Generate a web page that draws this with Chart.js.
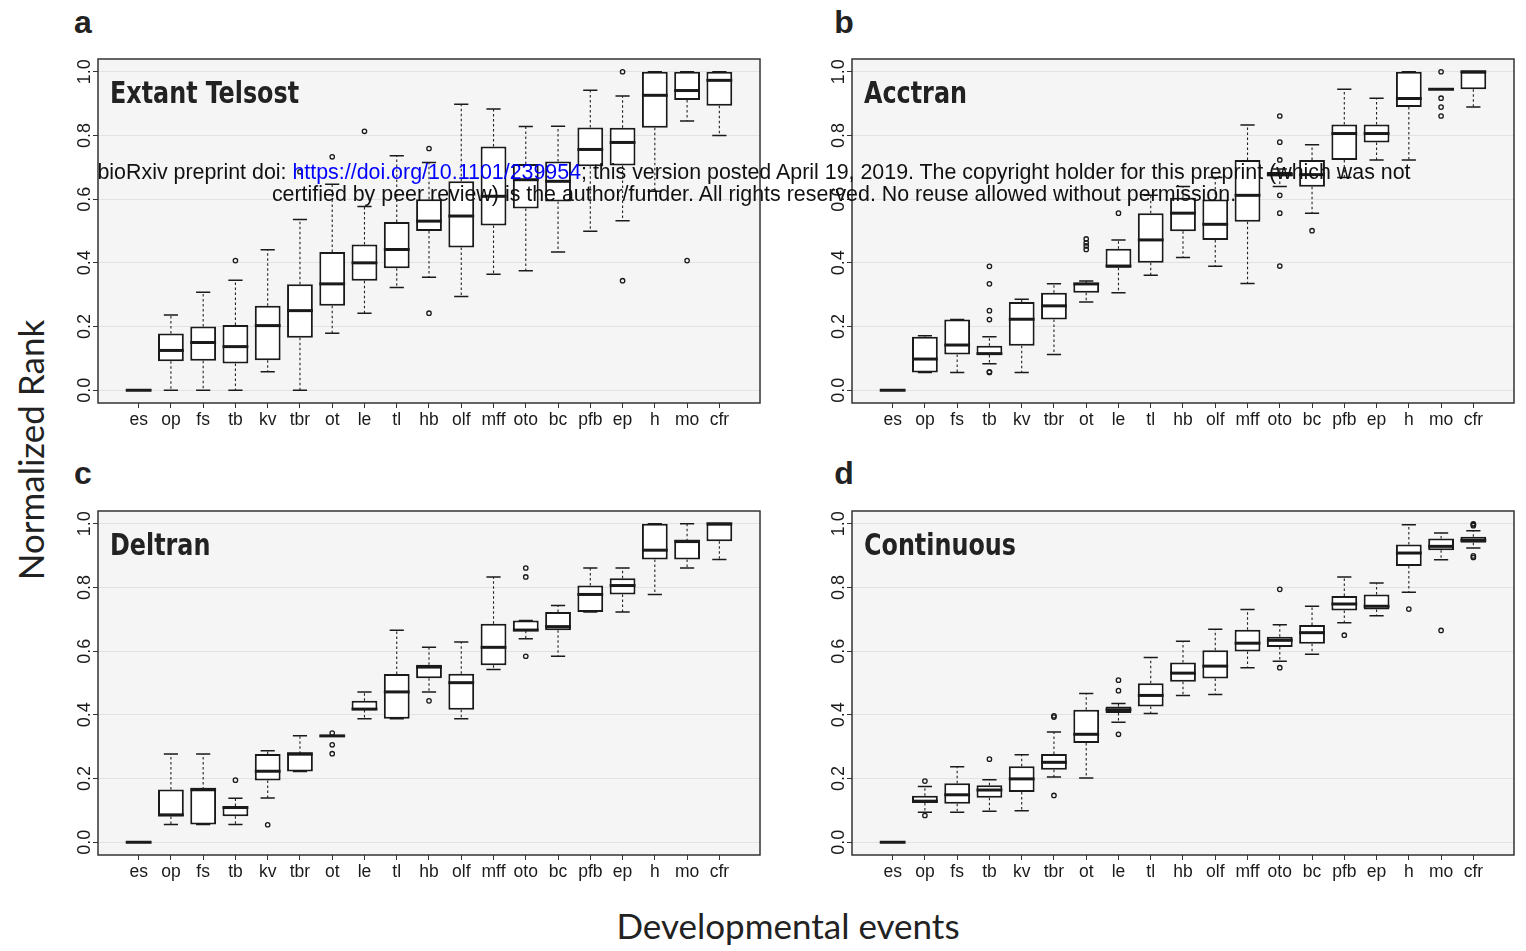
<!DOCTYPE html>
<html>
<head>
<meta charset="utf-8">
<script src="https://cdn.jsdelivr.net/npm/chart.js@4.4.1/dist/chart.umd.min.js"></script>
<style>
body{margin:0;background:#fff;width:1526px;height:951px;position:relative;overflow:hidden;font-family:"Liberation Sans",Arial,sans-serif}
.panel{position:absolute;width:710px;height:400px}
.letter{position:absolute;font:bold 32px "Liberation Sans",Arial,sans-serif;color:#222;line-height:40px;width:40px;text-align:center}
.axt{position:absolute;font:35px Lato,"Open Sans",sans-serif;color:#222;width:500px;height:44px;line-height:44px;text-align:center}
#stamp{position:absolute;left:60px;top:161px;width:1388px;font:21.4px "Liberation Sans",Arial,sans-serif;line-height:22px;text-align:center;color:#111;z-index:5}
#stamp a{color:#0000ff;text-decoration:none}
</style>
</head>
<body>

<div class="panel" style="left:60px;top:50px"><canvas id="pa" width="710" height="400"></canvas></div>
<div class="panel" style="left:814px;top:50px"><canvas id="pb" width="710" height="400"></canvas></div>
<div class="panel" style="left:60px;top:502px"><canvas id="pc" width="710" height="400"></canvas></div>
<div class="panel" style="left:814px;top:502px"><canvas id="pd" width="710" height="400"></canvas></div>

<div class="letter" style="left:63px;top:2px">a</div>
<div class="letter" style="left:824px;top:2px">b</div>
<div class="letter" style="left:63px;top:453px">c</div>
<div class="letter" style="left:824px;top:453px">d</div>

<div class="axt" style="left:-220px;top:428px;transform:rotate(-90deg)">Normalized Rank</div>
<div class="axt" style="left:538px;top:903px">Developmental events</div>

<div id="stamp">bioRxiv preprint doi: <a href="#">https://doi.org/10.1101/239954</a>; this version posted April 19, 2019. The copyright holder for this preprint (which was not<br>certified by peer review) is the author/funder. All rights reserved. No reuse allowed without permission.</div>

<script>
const events=["es","op","fs","tb","kv","tbr","ot","le","tl","hb","olf","mff","oto","bc","pfb","ep","h","mo","cfr"];
const yTicks=[0,0.2,0.4,0.6,0.8,1.0];
const yTickLabels=["0.0","0.2","0.4","0.6","0.8","1.0"];

// a - Extant Telsost
const telMin=[0,0,0,0,0.058,0,0.179,0.242,0.323,0.355,0.294,0.364,0.375,0.434,0.499,0.532,0.625,0.845,0.800];
const telQ1=[0,0.091,0.093,0.084,0.094,0.165,0.265,0.344,0.383,0.500,0.448,0.517,0.571,0.593,0.703,0.706,0.824,0.911,0.893];
const telMed=[0,0.125,0.150,0.137,0.203,0.250,0.334,0.400,0.442,0.531,0.547,0.609,0.661,0.656,0.756,0.778,0.926,0.941,0.973];
const telQ3=[0,0.178,0.200,0.205,0.265,0.333,0.434,0.458,0.528,0.600,0.656,0.765,0.710,0.718,0.825,0.824,1.0,1.0,1.0];
const telMax=[0,0.236,0.308,0.345,0.441,0.536,0.647,0.577,0.736,0.715,0.898,0.883,0.828,0.829,0.942,0.924,1.0,1.0,1.0];
const telOut=[[],[],[],[0.407],[],[0.686],[0.733],[0.813],[],[0.759,0.242],[],[],[],[],[],[1.0,0.344],[],[0.407],[]];

// b - Acctran
const accMin=[0,0.056,0.056,0.083,0.056,0.112,0.277,0.306,0.361,0.417,0.389,0.335,0.640,0.556,0.668,0.723,0.723,0.945,0.889];
const accQ1=[0,0.056,0.112,0.111,0.140,0.222,0.306,0.385,0.400,0.499,0.472,0.529,0.671,0.639,0.723,0.778,0.889,0.945,0.945];
const accMed=[0,0.098,0.142,0.115,0.223,0.265,0.334,0.390,0.472,0.556,0.521,0.612,0.677,0.677,0.806,0.806,0.916,0.945,1.0];
const accQ3=[0,0.168,0.222,0.140,0.277,0.306,0.336,0.444,0.556,0.604,0.599,0.723,0.685,0.723,0.834,0.834,1.0,0.945,1.0];
const accMax=[0,0.171,0.222,0.168,0.286,0.334,0.343,0.472,0.612,0.640,0.668,0.833,0.695,0.771,0.945,0.917,1.0,0.945,1.0];
const accOut=[[],[],[],[0.389,0.334,0.250,0.222,0.056,0.058],[],[],[0.475,0.463,0.453,0.442],[0.556],[],[],[],[],[0.861,0.779,0.723,0.612,0.556,0.390],[0.501],[],[],[],[1.0,0.917,0.889,0.861],[]];

// c - Deltran
const delMin=[0,0.056,0.056,0.056,0.139,0.222,0.334,0.388,0.388,0.472,0.388,0.542,0.639,0.584,0.723,0.723,0.778,0.861,0.888];
const delQ1=[0,0.081,0.056,0.082,0.194,0.222,0.334,0.415,0.388,0.515,0.416,0.556,0.664,0.666,0.723,0.778,0.888,0.888,0.945];
const delMed=[0,0.086,0.166,0.109,0.223,0.278,0.334,0.418,0.472,0.550,0.501,0.612,0.666,0.677,0.778,0.806,0.917,0.945,1.0];
const delQ3=[0,0.166,0.166,0.114,0.277,0.278,0.334,0.444,0.528,0.557,0.529,0.686,0.696,0.723,0.806,0.829,1.0,0.945,1.0];
const delMax=[0,0.277,0.277,0.138,0.287,0.334,0.334,0.472,0.666,0.612,0.629,0.833,0.696,0.743,0.861,0.861,1.0,1.0,1.0];
const delOut=[[],[],[],[0.195],[0.055],[],[0.343,0.306,0.278],[],[],[0.444],[],[],[0.861,0.833,0.584],[],[],[],[],[],[]];

// d - Continuous
const conMin=[0,0.094,0.094,0.097,0.099,0.205,0.202,0.377,0.404,0.461,0.464,0.548,0.568,0.590,0.689,0.711,0.785,0.887,0.924];
const conQ1=[0,0.123,0.121,0.140,0.158,0.228,0.312,0.406,0.426,0.504,0.514,0.599,0.613,0.623,0.728,0.731,0.867,0.917,0.940];
const conMed=[0,0.129,0.149,0.164,0.199,0.251,0.339,0.416,0.461,0.531,0.553,0.625,0.634,0.658,0.748,0.741,0.908,0.929,0.948];
const conQ3=[0,0.146,0.185,0.179,0.239,0.277,0.416,0.426,0.499,0.564,0.603,0.667,0.645,0.682,0.773,0.778,0.935,0.954,0.959];
const conMax=[0,0.175,0.237,0.196,0.275,0.346,0.467,0.436,0.580,0.631,0.669,0.731,0.683,0.741,0.833,0.814,0.997,0.971,0.978];
const conOut=[[],[0.192,0.084],[],[0.261],[],[0.397,0.393,0.147],[],[0.509,0.476,0.339],[],[],[],[],[0.794,0.548],[],[0.650],[],[0.732],[0.665],[1.0,0.997,0.994,0.899,0.894]];

Chart.defaults.font.family='"Liberation Sans", Arial, sans-serif';
Chart.defaults.color='#1a1a1a';

function boxPlugin(title,mins,meds,maxs){
return {
id:"boxes",
beforeDraw(chart){
const a=chart.chartArea, ctx=chart.ctx;
ctx.save();
ctx.fillStyle="#f5f5f5";
ctx.fillRect(a.left,a.top,a.right-a.left,a.bottom-a.top);
ctx.restore();
},
beforeDatasetsDraw(chart){
const ctx=chart.ctx, xs=chart.scales.x, ys=chart.scales.y;
const meta=chart.getDatasetMeta(0);
ctx.save();
ctx.strokeStyle="#222";
ctx.lineWidth=1.1;
ctx.setLineDash([2.5,2.5]);
events.forEach((e,i)=>{
const bar=meta.data[i].getProps(["x","y","base"],true);
const x=xs.getPixelForValue(i+1);
const top=Math.min(bar.y,bar.base), bot=Math.max(bar.y,bar.base);
const yMax=ys.getPixelForValue(maxs[i]), yMin=ys.getPixelForValue(mins[i]);
ctx.beginPath();
if(yMax<top){ctx.moveTo(x,top);ctx.lineTo(x,yMax);}
if(yMin>bot){ctx.moveTo(x,bot);ctx.lineTo(x,yMin);}
ctx.stroke();
});
ctx.restore();
},
afterDatasetsDraw(chart){
const ctx=chart.ctx, xs=chart.scales.x, ys=chart.scales.y;
const unit=xs.getPixelForValue(2)-xs.getPixelForValue(1);
ctx.save();
ctx.strokeStyle="#1a1a1a";
events.forEach((e,i)=>{
const x=xs.getPixelForValue(i+1);
ctx.lineWidth=1.5;
ctx.beginPath();
[mins[i],maxs[i]].forEach(v=>{
const y=ys.getPixelForValue(v);
ctx.moveTo(x-unit*0.22,y);ctx.lineTo(x+unit*0.22,y);
});
ctx.stroke();
ctx.lineWidth=3;
ctx.beginPath();
const ym=ys.getPixelForValue(meds[i]);
ctx.moveTo(x-unit*0.4,ym);ctx.lineTo(x+unit*0.4,ym);
ctx.stroke();
});
ctx.restore();
},
afterDraw(chart){
const a=chart.chartArea, ctx=chart.ctx, ys=chart.scales.y;
ctx.save();
ctx.strokeStyle="#333";
ctx.lineWidth=1.5;
ctx.strokeRect(a.left,a.top,a.right-a.left,a.bottom-a.top);
ctx.fillStyle="#1a1a1a";
ctx.font='18px "Liberation Sans", Arial, sans-serif';
ctx.textAlign="center";
ctx.textBaseline="alphabetic";
yTicks.forEach((v,k)=>{
ctx.save();
ctx.translate(a.left-8,ys.getPixelForValue(v));
ctx.rotate(-Math.PI/2);
ctx.fillText(yTickLabels[k],0,0);
ctx.restore();
});
ctx.textAlign="left";
ctx.fillStyle="#222";
ctx.font='bold 31px "DejaVu Sans Condensed", "DejaVu Sans", sans-serif';
ctx.translate(a.left+12,a.top+44);
ctx.scale(0.855,1);
ctx.fillText(title,0,0);
ctx.restore();
}
};
}

function makePanel(id,title,mins,q1s,meds,q3s,maxs,outs){
const boxes=events.map((e,i)=>({x:i+1,y:[q1s[i],q3s[i]]}));
const pts=[];
outs.forEach((list,i)=>list.forEach(v=>pts.push({x:i+1,y:v})));
return new Chart(document.getElementById(id),{
type:"bar",
data:{
datasets:[{
type:"bar",
data:boxes,
backgroundColor:"#fff",
borderColor:"#1a1a1a",
borderWidth:2,
borderSkipped:false,
barPercentage:0.8,
categoryPercentage:1
},{
type:"scatter",
data:pts,
pointRadius:2.2,
pointBorderWidth:1.3,
pointBorderColor:"#1a1a1a",
pointBackgroundColor:"rgba(0,0,0,0)"
}]
},
options:{
responsive:false,
animation:false,
layout:{padding:{left:0,top:9,right:10,bottom:0}},
plugins:{legend:{display:false},tooltip:{enabled:false}},
scales:{
x:{
type:"linear",
min:-0.26,
max:20.26,
offset:false,
afterBuildTicks:s=>{s.ticks=events.map((e,i)=>({value:i+1}));},
afterFit:s=>{s.height=47;},
ticks:{autoSkip:false,maxRotation:0,padding:2,font:{size:17.5},callback:v=>events[v-1]},
grid:{offset:false,drawOnChartArea:false,drawTicks:true,tickLength:5,tickColor:"#333"},
border:{display:false}
},
y:{
min:-0.04,
max:1.04,
afterBuildTicks:s=>{s.ticks=yTicks.map(v=>({value:v}));},
afterFit:s=>{s.width=38;},
ticks:{display:false},
grid:{color:"#e2e2e2",lineWidth:1,drawTicks:true,tickLength:5,tickColor:"#333"},
border:{display:false}
}
}
},
plugins:[boxPlugin(title,mins,meds,maxs)]
});
}

makePanel("pa","Extant Telsost",telMin,telQ1,telMed,telQ3,telMax,telOut);
makePanel("pb","Acctran",accMin,accQ1,accMed,accQ3,accMax,accOut);
makePanel("pc","Deltran",delMin,delQ1,delMed,delQ3,delMax,delOut);
makePanel("pd","Continuous",conMin,conQ1,conMed,conQ3,conMax,conOut);
</script>
</body>
</html>
